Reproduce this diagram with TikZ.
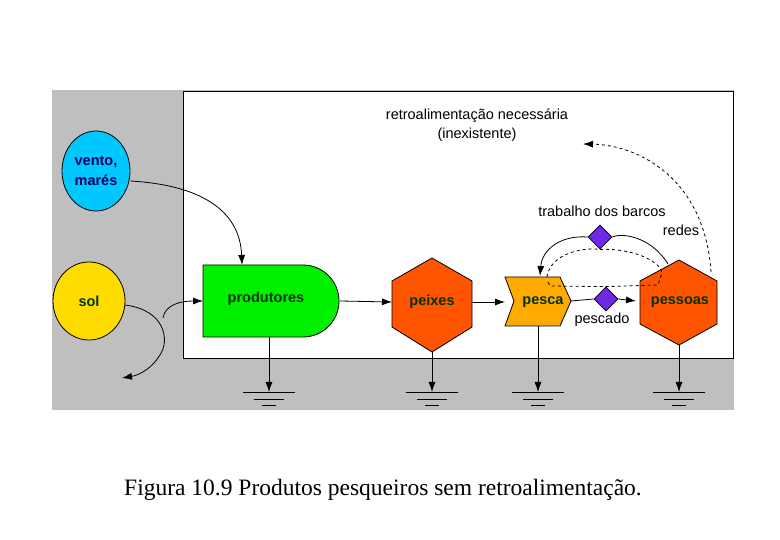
\documentclass[tikz,border=0pt]{standalone}
\usepackage{fontspec}
\setmainfont{Liberation Sans}
\newfontfamily\capfont{Liberation Serif}
\usetikzlibrary{shapes.geometric,arrows.meta}
\begin{document}
\begin{tikzpicture}[x=1pt,y=-1pt,line width=0.8pt,
  lbl/.style={font=\fontsize{14.5}{17}\selectfont},
  nlbl/.style={font=\fontsize{14.5}{17}\selectfont\bfseries,text=black!80!green},
  arr/.style={-{Latex[length=10pt,width=7pt]}}]
\useasboundingbox (0,0) rectangle (780,540);
\fill[gray!50] (52,90) rectangle (734,410);
\draw[fill=white] (183,91) rectangle (733,358);
% sources
\node[draw,ellipse,fill={rgb,255:red,0;green,200;blue,255},minimum width=68,minimum height=80,inner sep=0,align=center,nlbl,text=blue!40!black] (vento) at (96,171) {vento,\\[3pt]marés};
\node[draw,ellipse,fill={rgb,255:red,255;green,220;blue,0},minimum width=72,minimum height=78,inner sep=0,nlbl] (sol) at (89,301) {sol};
% produtores
\draw[fill={rgb,255:red,0;green,240;blue,0}] (203,265) -- (303,265) arc[start angle=-90,end angle=90,radius=36] -- (203,337) -- cycle;
\node[nlbl] (prod) at (266,299) {produtores};
\coordinate (prodL) at (203,301);
\coordinate (prodT) at (242,265);
\coordinate (prodR) at (340,301);
% peixes
\draw[fill={rgb,255:red,255;green,85;blue,0}] (432,258) -- (472,281) -- (472,327) -- (432,352) -- (392,327) -- (392,281) -- cycle;
\node[nlbl] (peixes) at (432,302) {peixes};
% pesca
\draw[fill={rgb,255:red,255;green,170;blue,0}] (505,277) -- (560,277) -- (571,301) -- (560,326) -- (505,326) -- (514,301) -- cycle;
\node[nlbl] (pesca) at (543,302) {pesca};
% pessoas
\draw[fill={rgb,255:red,255;green,85;blue,0}] (679,260) -- (717,281) -- (717,324) -- (679,345) -- (640,324) -- (640,281) -- cycle;
\node[nlbl] (pessoas) at (680,302) {pessoas};
% diamonds
\node[draw,diamond,fill={rgb,255:red,110;green,40;blue,230},minimum size=24,inner sep=0] (d1) at (600,237) {};
\node[draw,diamond,fill={rgb,255:red,110;green,40;blue,230},minimum size=24,inner sep=0] (d2) at (606,299) {};
% labels
\node[lbl] (t1) at (477,116) {retroalimentação necessária};
\node[lbl] (t2) at (477,135) {(inexistente)};
\node[lbl] (t3) at (602,211) {trabalho dos barcos};
\node[lbl] (t4) at (681,230) {redes};
\node[lbl] (t5) at (602,320) {pescado};
% flows
\draw[arr] (vento.east|-0,181) .. controls (200,185) and (240,210) .. (prodT);
\draw (125,305) .. controls (165,310) and (170,340) .. (160,355);
\draw[arr] (160,355) .. controls (152,368) and (140,375) .. (122,378);
\draw[arr] (163,318) .. controls (165,305) and (180,301) .. (prodL);
\draw[arr] (prodR) -- (392,302);
\draw[arr] (472,302) -- (505,302);
\draw (571,301) -- (d2.west);
\draw[arr] (d2.east) -- (636,301);
\draw (668,264) .. controls (650,235) and (620,233) .. (d1.east);
\draw[arr] (d1.west) .. controls (560,235) and (542,250) .. (540,276);
\draw[dashed] (547,277) .. controls (550,255) and (580,247) .. (d1.south);
\draw[dashed] (d1.south) .. controls (630,248) and (660,260) .. (662,273) -- (658,285) -- (d2.north) -- (550,286) -- (547,280);
\draw[dashed,arr] (711,272) .. controls (705,180) and (640,145) .. (583,144);
% grounds
\foreach \x/\y/\n in {269/337/g1,432/352/g2,538/326/g3,679/345/g4}{
  \coordinate (\n) at (\x,392);
  \draw[arr] (\x,\y) -- (\n);
  \draw (\x-26,392) -- (\x+26,392) (\x-15,399) -- (\x+15,399) (\x-7,405) -- (\x+7,405);
}
\node[font=\capfont\fontsize{23.5}{27}\selectfont] (cap) at (383,490) {Figura 10.9 Produtos pesqueiros sem retroalimentação.};
\end{tikzpicture}
\end{document}
